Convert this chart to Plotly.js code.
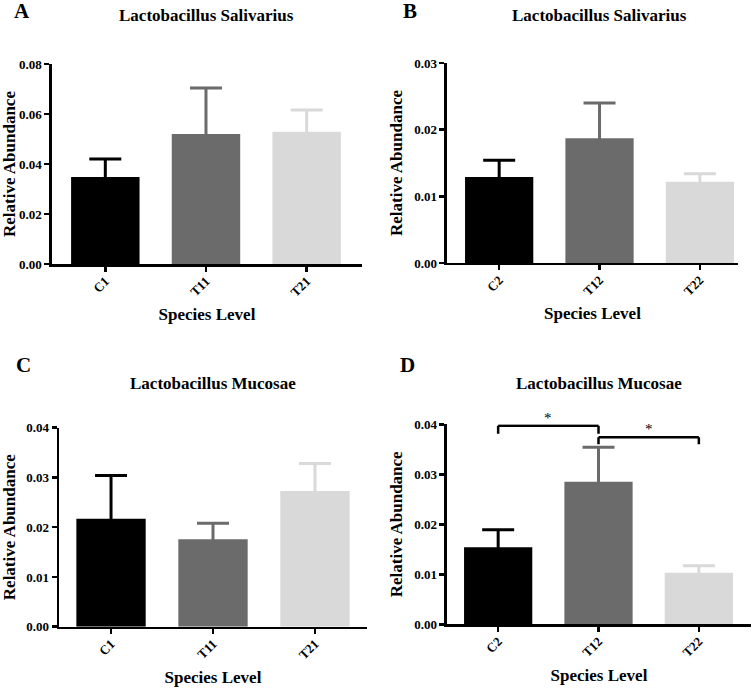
<!DOCTYPE html>
<html>
<head>
<meta charset="utf-8">
<script src="https://cdn.plot.ly/plotly-3.0.1.min.js"></script>
<style>
  html, body { margin: 0; padding: 0; background: #fff; }
  #chart { width: 752px; height: 689px; }
</style>
</head>
<body>
<div id="chart"></div>
<script>
// groups on the x axis
var groups1 = ['C1', 'T11', 'T21'];
var groups2 = ['C2', 'T12', 'T22'];
var barColors = ['#000000', '#6b6b6b', '#d9d9d9'];

// mean relative abundance and error (only the upper half shows above the bar)
var salivarius1 = [0.0348, 0.0520, 0.0529];
var salivarius1Err = [0.0072, 0.0184, 0.0087];
var salivarius2 = [0.0129, 0.0187, 0.0122];
var salivarius2Err = [0.0025, 0.0053, 0.0012];
var mucosae1 = [0.0217, 0.0176, 0.0273];
var mucosae1Err = [0.0087, 0.0032, 0.0055];
var mucosae2 = [0.0154, 0.0285, 0.0103];
var mucosae2Err = [0.0035, 0.0069, 0.0014];

// significance brackets for panel D: [from, to, height, label]
var sigPairs = [['C2', 'T12', 0.0397, '*'], ['T12', 'T22', 0.0374, '*']];

var serif = 'Liberation Serif, Times New Roman, serif';

function barTraces(names, vals, errs, xa, ya) {
  return names.map(function (n, i) {
    return {
      type: 'bar',
      x: [n],
      y: [vals[i]],
      width: 0.68,
      xaxis: xa,
      yaxis: ya,
      marker: {color: barColors[i], line: {width: 0}},
      // symmetric: the lower half is hidden inside the bar (same colour)
      error_y: {
        type: 'data', symmetric: true, array: [errs[i]],
        color: barColors[i], thickness: 3, width: 16
      },
      showlegend: false,
      hoverinfo: 'x+y'
    };
  });
}

var data = []
  .concat(barTraces(groups1, salivarius1, salivarius1Err, 'x', 'y'))
  .concat(barTraces(groups2, salivarius2, salivarius2Err, 'x2', 'y2'))
  .concat(barTraces(groups1, mucosae1, mucosae1Err, 'x3', 'y3'))
  .concat(barTraces(groups2, mucosae2, mucosae2Err, 'x4', 'y4'));

function xAxis(dom, range, anchor) {
  return {
    domain: dom, range: range, anchor: anchor, type: 'category',
    showline: true, linewidth: 2.5, linecolor: '#000',
    ticks: 'outside', ticklen: 5, tickwidth: 2.5, tickcolor: '#000',
    tickangle: -45, ticklabelstandoff: -3,
    showgrid: false, zeroline: false, fixedrange: true,
    tickfont: {family: serif, size: 13, color: '#000', weight: 'bold'},
    title: {text: 'Species Level', standoff: 10,
            font: {family: serif, size: 17, color: '#000', weight: 'bold'}}
  };
}

function yAxis(dom, max, step, anchor) {
  return {
    domain: dom, range: [0, max], dtick: step, tickformat: '.2f', anchor: anchor,
    showline: true, linewidth: 2.5, linecolor: '#000',
    ticks: 'outside', ticklen: 5, tickwidth: 2.5, tickcolor: '#000',
    showgrid: false, zeroline: false, fixedrange: true,
    tickfont: {family: serif, size: 13, color: '#000', weight: 'bold'},
    title: {text: 'Relative Abundance', standoff: 7,
            font: {family: serif, size: 17, color: '#000', weight: 'bold'}}
  };
}

var titleFont = {family: serif, size: 17, color: '#000', weight: 'bold'};
var letterFont = {family: serif, size: 21, color: '#000', weight: 'bold'};

function paperText(text, x, y, font) {
  return {text: text, xref: 'paper', yref: 'paper', x: x / 752, y: 1 - y / 689,
          xanchor: 'center', yanchor: 'middle', showarrow: false, font: font};
}

var annotations = [
  paperText('A', 22, 11, letterFont),
  paperText('Lactobacillus Salivarius', 207, 15, titleFont),
  paperText('B', 410, 11, letterFont),
  paperText('Lactobacillus Salivarius', 599, 15, titleFont),
  paperText('C', 23, 365, letterFont),
  paperText('Lactobacillus Mucosae', 213, 383, titleFont),
  paperText('D', 408, 365, letterFont),
  paperText('Lactobacillus Mucosae', 599, 383, titleFont)
];

var shapes = [];
sigPairs.forEach(function (p, k) {
  var drop = k === 0 ? 0.0016 : 0.0014;
  var ln = {color: '#000', width: 2.5};
  shapes.push({type: 'line', xref: 'x4', yref: 'y4', x0: p[0], x1: p[0], y0: p[2], y1: p[2] - drop, line: ln});
  shapes.push({type: 'line', xref: 'x4', yref: 'y4', x0: p[0], x1: p[1], y0: p[2], y1: p[2], line: ln});
  shapes.push({type: 'line', xref: 'x4', yref: 'y4', x0: p[1], x1: p[1], y0: p[2], y1: p[2] - drop, line: ln});
  var mid = (groups2.indexOf(p[0]) + groups2.indexOf(p[1])) / 2;
  annotations.push({text: p[3], xref: 'x4', yref: 'y4 domain', x: mid, y: (p[2] - 0.0004) / 0.04,
                    showarrow: false, yanchor: 'bottom',
                    font: {family: serif, size: 15, color: '#000'}});
});

var layout = {
  width: 752, height: 689,
  margin: {l: 0, r: 0, t: 0, b: 0},
  paper_bgcolor: '#fff', plot_bgcolor: '#fff',
  barmode: 'overlay',
  font: {family: serif, color: '#000'},
  xaxis: xAxis([0.0691, 0.4814], [-0.53, 2.55], 'y'),
  yaxis: yAxis([0.6168, 0.9071], 0.08, 0.02, 'x'),
  xaxis2: xAxis([0.5944, 0.9814], [-0.52, 2.38], 'y2'),
  yaxis2: yAxis([0.6183, 0.9086], 0.03, 0.01, 'x2'),
  xaxis3: xAxis([0.0785, 0.4880], [-0.51, 2.51], 'y3'),
  yaxis3: yAxis([0.0904, 0.3792], 0.04, 0.01, 'x3'),
  xaxis4: xAxis([0.5944, 0.9987], [-0.51, 2.52], 'y4'),
  yaxis4: yAxis([0.0939, 0.3842], 0.04, 0.01, 'x4'),
  annotations: annotations,
  shapes: shapes
};

Plotly.newPlot('chart', data, layout, {displayModeBar: false, staticPlot: true});
</script>
</body>
</html>
